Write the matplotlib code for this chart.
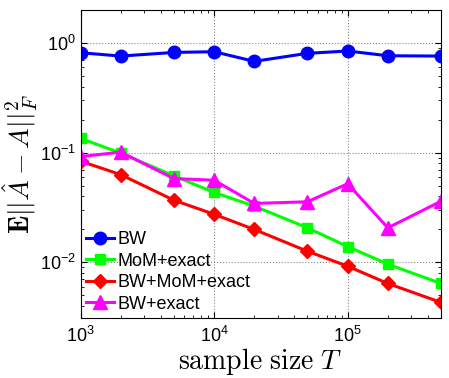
import matplotlib
matplotlib.use('Agg')
import matplotlib.pyplot as plt

plt.rcParams['font.family'] = ['Liberation Sans', 'DejaVu Sans']
plt.rcParams['mathtext.fontset'] = 'cm'

sample_sizes = [1e3, 2e3, 5e3, 1e4, 2e4, 5e4, 1e5, 2e5, 5e5]
bw = [0.815, 0.76, 0.82, 0.833, 0.68, 0.805, 0.845, 0.765, 0.76]
mom_exact = [0.135, 0.099, 0.0614, 0.0433, 0.0325, 0.0206, 0.0139, 0.0096, 0.0064]
bw_mom_exact = [0.0836, 0.063, 0.0368, 0.0274, 0.0199, 0.0126, 0.0092, 0.0064, 0.0043]
bw_exact = [0.092, 0.101, 0.058, 0.056, 0.0344, 0.0356, 0.052, 0.0206, 0.036]

fig = plt.figure(figsize=(4.49, 3.78), dpi=100)
ax = fig.add_axes([80.5/449, 60/378, 360.5/449, 308/378])

ax.plot(sample_sizes, bw, '-o', color='#0000ff', lw=2.2, ms=9, label='BW')
ax.plot(sample_sizes, mom_exact, '-s', color='#00ff00', lw=2.2, ms=7.5, label='MoM+exact')
ax.plot(sample_sizes, bw_mom_exact, '-D', color='#ff0000', lw=2.2, ms=7.5, label='BW+MoM+exact')
ax.plot(sample_sizes, bw_exact, '-^', color='#ff00ff', lw=2.2, ms=10, label='BW+exact')

ax.set_xscale('log')
ax.set_yscale('log')
ax.set_xlim(1e3, 5e5)
ax.set_ylim(3.1e-3, 2)
ax.grid(True, which='major', ls=':', color='#888888', lw=0.8)
ax.tick_params(which='both', direction='in', top=True, right=True, labelsize=13)
ax.tick_params(which='major', length=4)
ax.tick_params(which='minor', length=2)
ax.tick_params(axis='x', pad=6)
for s in ax.spines.values():
    s.set_linewidth(0.8)

ax.set_xlabel(r'$\mathrm{sample\ size}\ T$', fontsize=20, labelpad=0)
ax.set_ylabel(r'$\mathbf{E}||\hat{A}-A||_F^2$', fontsize=20, labelpad=0)

ax.legend(loc='lower left', frameon=False, fontsize=13, handlelength=1.55,
          handletextpad=0.2, labelspacing=0.25, borderaxespad=0.1,
          borderpad=0.2)

fig.savefig('out.png', dpi=100)
